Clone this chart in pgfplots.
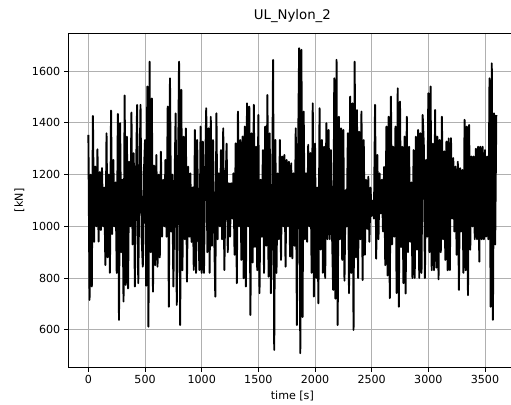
\documentclass[border=0pt]{standalone}
\usepackage{fontspec}
\setmainfont{DejaVu Sans}
\usepackage{pgfplots}
\pgfplotsset{compat=1.18}
\definecolor{gridgray}{HTML}{B0B0B0}
\begin{document}
\fontsize{11.1bp}{13bp}\selectfont
\begin{tikzpicture}
\begin{axis}[
  at={(0,0)}, anchor=south west,
  scale only axis, width=448.7bp, height=334.7bp,
  xmin=-180, xmax=3780, ymin=453, ymax=1748,
  xtick={0,500,...,3500}, ytick={600,800,...,1600},
  grid=major, major grid style={gridgray, line width=0.9bp},
  tick align=outside, major tick length=3.9bp, tick pos=left,
  tick style={black, line width=0.9bp},
  axis line style={black, line width=0.9bp},
  /pgf/number format/assume math mode=true,
  /pgf/number format/1000 sep={},
  scaled ticks=false,
  ticklabel style={font=\fontsize{11.1bp}{13bp}\selectfont},
  title={UL\_Nylon\_2},
  title style={font=\fontsize{13.3bp}{16bp}\selectfont},
  xlabel={time [s]}, ylabel={[kN]},
  label style={font=\fontsize{11.1bp}{13bp}\selectfont},
]
\addplot[black, line width=1.9bp, line join=round, mark=none] coordinates {
(0,1354)(10,715)(20,1200)(30,767)(40,1427)(50,940)(60,1231)(70,1000)(80,1298)(90,941)
(100,1210)(110,986)(120,1225)(130,1000)(140,1150)(150,850)(160,1360)(170,880)(180,1200)(190,820)
(200,1448)(210,970)(220,1257)(230,1000)(240,1170)(250,820)(260,1435)(270,638)(280,1399)(290,900)
(300,1180)(310,709)(320,1506)(330,773)(340,1347)(350,760)(360,1250)(370,1000)(380,1440)(390,930)
(400,1283)(410,767)(420,1180)(430,1470)(440,780)(450,1150)(460,1470)(470,960)(480,844)(490,1210)
(500,1334)(510,770)(520,1541)(530,612)(540,1637)(550,900)(560,1495)(570,747)(580,1235)(590,850)
(600,1276)(610,844)(620,1200)(630,880)(640,1289)(650,960)(660,1180)(670,1000)(680,1257)(690,960)
(700,1463)(710,689)(720,1573)(730,980)(740,1200)(750,767)(760,1150)(770,1437)(780,696)(790,1150)
(800,1637)(810,618)(820,1528)(830,830)(840,1347)(850,950)(860,1379)(870,786)(880,1231)(890,960)
(900,1205)(910,940)(920,1150)(930,831)(940,1373)(950,820)(960,1334)(970,1000)(980,831)(990,1386)
(1000,820)(1010,1328)(1020,820)(1030,1200)(1040,1457)(1050,900)(1060,1379)(1070,820)(1080,1424)(1090,925)
(1100,1334)(1110,980)(1120,728)(1130,1437)(1140,950)(1150,1205)(1160,1000)(1170,1295)(1180,950)(1190,1379)
(1200,831)(1210,1150)(1220,1320)(1230,900)(1240,1167)(1250,960)(1260,1167)(1270,1030)(1280,1205)(1290,890)
(1300,1321)(1310,780)(1320,1444)(1330,1000)(1340,1334)(1350,870)(1360,1347)(1370,799)(1380,1386)(1390,767)
(1400,1476)(1410,1000)(1420,1463)(1430,657)(1440,1360)(1450,860)(1460,1470)(1470,920)(1480,1308)(1490,830)
(1500,1431)(1510,741)(1520,1180)(1530,960)(1540,1295)(1550,820)(1560,1386)(1570,925)(1580,1508)(1590,805)
(1600,1360)(1610,741)(1620,1000)(1630,1644)(1640,522)(1650,1334)(1660,820)(1670,1205)(1680,950)(1690,1334)
(1700,870)(1710,1270)(1720,1000)(1730,1276)(1740,844)(1750,1257)(1760,1000)(1770,1250)(1780,883)(1790,1244)
(1800,876)(1810,1205)(1820,925)(1830,1379)(1840,618)(1850,1250)(1860,1689)(1870,509)(1880,1683)(1890,649)
(1900,1444)(1910,950)(1920,1205)(1930,940)(1940,1315)(1950,1000)(1960,1283)(1970,820)(1980,1476)(1990,728)
(2000,1320)(2010,800)(2020,1150)(2030,702)(2040,1457)(2050,910)(2060,1334)(2070,820)(2080,1308)(2090,800)
(2100,1399)(2110,950)(2120,1373)(2130,950)(2140,1295)(2150,980)(2160,754)(2170,1573)(2180,720)(2190,1644)
(2200,618)(2210,1424)(2220,950)(2230,1379)(2240,870)(2250,1373)(2260,790)(2270,1140)(2280,1000)(2290,1360)
(2300,741)(2310,1502)(2320,820)(2330,1476)(2340,599)(2350,1637)(2360,880)(2370,1450)(2380,800)(2390,1366)
(2400,950)(2410,1444)(2420,792)(2430,1334)(2440,890)(2450,1180)(2460,990)(2470,1192)(2480,940)(2490,1150)
(2500,1040)(2510,1100)(2520,1030)(2530,1470)(2540,875)(2550,1276)(2560,950)(2570,1205)(2580,1050)(2590,1180)
(2600,980)(2610,1230)(2620,850)(2630,1386)(2640,810)(2650,1424)(2660,722)(2670,1502)(2680,930)(2690,1308)
(2700,960)(2710,1386)(2720,742)(2730,1534)(2740,689)(2750,1483)(2760,920)(2770,1308)(2780,780)(2790,1347)
(2800,740)(2810,1424)(2820,900)(2830,1308)(2840,940)(2850,1170)(2860,800)(2870,1295)(2880,800)(2890,1347)
(2900,910)(2910,1373)(2920,800)(2930,1360)(2940,820)(2950,1431)(2960,1320)(2970,800)(2980,1257)(2990,960)
(3000,1515)(3010,900)(3020,1541)(3030,830)(3040,1320)(3050,830)(3060,1450)(3070,840)(3080,1347)(3090,795)
(3100,1334)(3110,900)(3120,1424)(3130,950)(3140,1290)(3150,870)(3160,1328)(3170,830)(3180,1340)(3190,831)
(3200,1341)(3210,1030)(3220,1264)(3230,980)(3240,1231)(3250,890)(3260,1250)(3270,754)(3280,1225)(3290,980)
(3300,1218)(3310,820)(3320,1412)(3330,830)(3340,1386)(3350,734)(3360,1392)(3370,910)(3380,1270)(3390,1000)
(3400,1270)(3410,950)(3420,1300)(3430,950)(3440,1308)(3450,863)(3460,1308)(3470,950)(3480,1308)(3490,950)
(3500,1295)(3510,960)(3520,1270)(3530,950)(3540,1573)(3550,689)(3560,1631)(3570,638)(3580,1437)(3590,930)
(3600,1430)
};
\end{axis}
\pgfresetboundingbox
\useasboundingbox (-68bp,-37.3bp) rectangle (443bp,367.7bp);
\end{tikzpicture}
\end{document}
